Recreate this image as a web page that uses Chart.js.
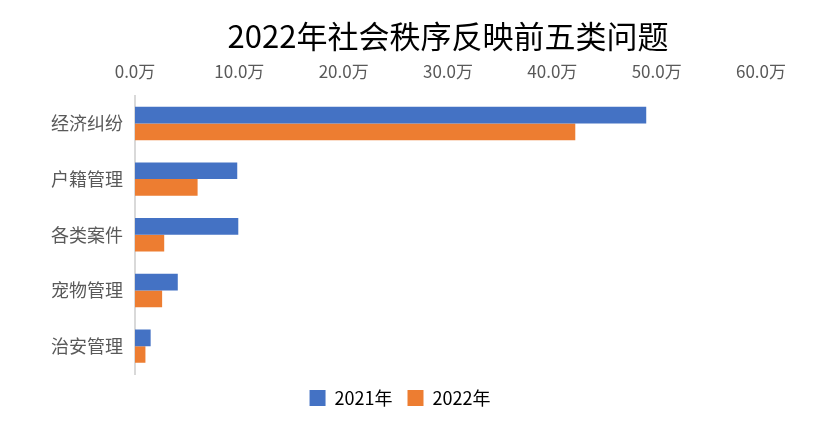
<!DOCTYPE html>
<html lang="zh">
<head>
    <meta charset="utf-8">
    <script src="https://cdn.jsdelivr.net/npm/chart.js@4/dist/chart.umd.min.js"></script>
    <style>
        html, body { margin: 0; padding: 0; background: #fff; }
        #wrap { position: relative; width: 831px; height: 429px; }
    </style>
</head>
<body>
<div id="wrap">
    <canvas id="chart"></canvas>
</div>
<script>
    // values in 万
    const categories = ["经济纠纷", "户籍管理", "各类案件", "宠物管理", "治安管理"];
    const y2021 = [49.0, 9.8, 9.9, 4.1, 1.5];
    const y2022 = [42.2, 6.0, 2.8, 2.6, 1.0];

    const font = "'Noto Sans CJK SC', 'Noto Sans', sans-serif";

    new Chart(document.getElementById("chart"), {
        type: "bar",
        data: {
            labels: categories,
            datasets: [
                { label: "2021年", data: y2021, backgroundColor: "#4472C4" },
                { label: "2022年", data: y2022, backgroundColor: "#ED7D31" }
            ]
        },
        options: {
            indexAxis: "y",
            responsive: true,
            maintainAspectRatio: false,
            animation: false,
            layout: { padding: { left: 39, right: 70, top: 14, bottom: 12 } },
            datasets: { bar: { categoryPercentage: 0.6, barPercentage: 1.0 } },
            plugins: {
                title: {
                    display: true,
                    fullSize: false,
                    text: "2022年社会秩序反映前五类问题",
                    color: "#000",
                    font: { family: font, size: 31, weight: "normal" },
                    padding: { top: 4, bottom: 0 }
                },
                legend: {
                    position: "bottom",
                    labels: {
                        color: "#000",
                        font: { family: font, size: 18 },
                        boxWidth: 16,
                        boxHeight: 16,
                        padding: 15
                    }
                },
                tooltip: { enabled: false }
            },
            scales: {
                x: {
                    position: "top",
                    min: 0,
                    max: 60,
                    grid: { display: false },
                    border: { display: false },
                    ticks: {
                        stepSize: 10,
                        color: "#595959",
                        font: { family: font, size: 17 },
                        padding: 6,
                        callback: v => v.toFixed(1) + "万"
                    }
                },
                y: {
                    grid: { display: false, drawTicks: false },
                    border: { display: true, color: "#d9d9d9", width: 2 },
                    ticks: {
                        color: "#595959",
                        font: { family: font, size: 18 },
                        padding: 12
                    }
                }
            }
        }
    });
</script>
</body>
</html>
